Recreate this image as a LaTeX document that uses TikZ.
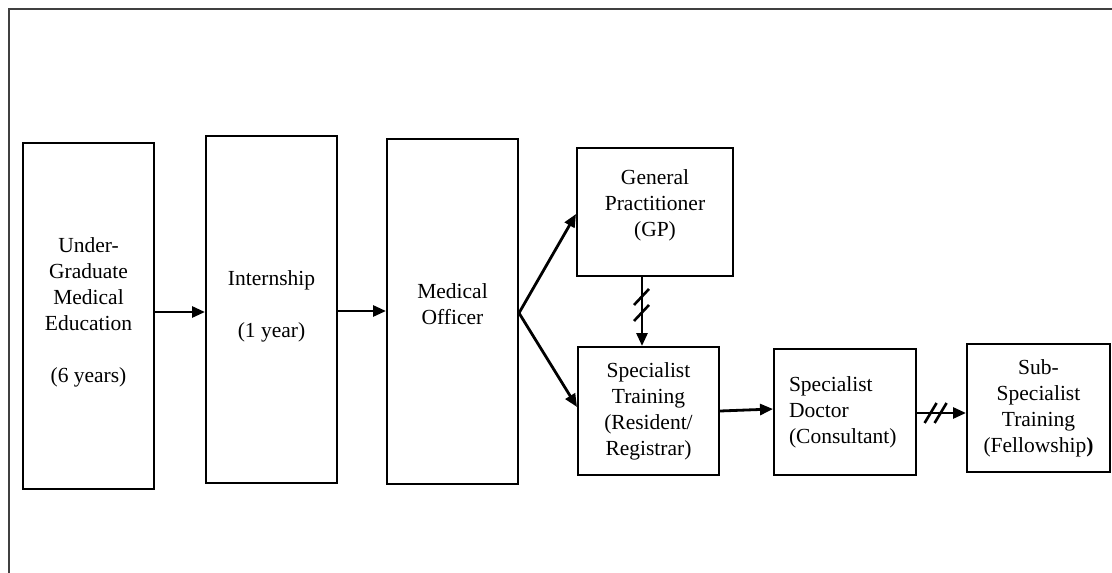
\documentclass[tikz,border=0pt]{standalone}
\usepackage{fontspec}
\setmainfont{Liberation Serif}
\usetikzlibrary{arrows.meta,calc}
\begin{document}
\begin{tikzpicture}[x=1pt,y=-1pt,
  box/.style={draw=black,line width=2pt,rectangle,inner sep=0pt},
  txt/.style={align=center,inner sep=0pt,font=\fontsize{21.5}{26}\selectfont},
  conn/.style={line width=2.8pt,-{Triangle[length=13pt,width=11pt]}},
  slash/.style={line width=2.6pt},
  frame/.style={draw=black!75,line width=1.3pt}]
\useasboundingbox (0,0) rectangle (1112,573);
\draw[frame] (9,573) -- (9,9) -- (1112,9);

\node[box,minimum width=131,minimum height=346,
  label={[txt,yshift=4]center:{Under-\\Graduate\\Medical\\Education\\[26pt](6 years)}}] (b1) at (88.5,316) {};
\node[box,minimum width=131,minimum height=347,
  label={[txt,yshift=3]center:{Internship\\[26pt](1 year)}}] (b2) at (271.5,309.5) {};
\node[box,minimum width=131,minimum height=345,
  label={[txt,yshift=7]center:{Medical\\Officer}}] (b3) at (452.5,311.5) {};
\node[box,minimum width=156,minimum height=128,
  label={[txt,yshift=7]center:{General\\Practitioner\\(GP)}}] (gp) at (655,212) {};
\node[box,minimum width=141,minimum height=128,
  label={[txt]center:{Specialist\\Training\\(Resident/\\Registrar)}}] (st) at (648.5,411) {};
\node[box,minimum width=142,minimum height=126,
  label={[txt,align=left,text width=112]center:{Specialist\\Doctor\\(Consultant)}}] (sd) at (845,412) {};
\node[box,minimum width=143,minimum height=128,
  label={[txt]center:{Sub-\\Specialist\\Training\\(Fellowship\textbf{)}}}] (sub) at (1038.5,408) {};

\coordinate (r1) at (0,312);
\coordinate (r2) at (0,311);
\coordinate (r3) at (0,313);
\coordinate (r4) at (0,214);
\coordinate (r5) at (0,407);
\coordinate (r6) at (0,411);
\coordinate (r7) at (0,409);
\coordinate (r8) at (0,413);
\coordinate (vx) at (642,0);

\draw[conn] (b1.east |- r1) -- (b2.west |- r1);
\draw[conn] (b2.east |- r2) -- (b3.west |- r2);
\draw[conn] (b3.east |- r3) -- (gp.west |- r4);
\draw[conn] (b3.east |- r3) -- (st.west |- r5);
\draw[conn] (vx |- gp.south) -- coordinate[pos=0.42] (m1) (vx |- st.north);
\draw[conn] (st.east |- r6) -- (sd.west |- r7);
\draw[conn] (sd.east |- r8) -- coordinate[pos=0.4] (m2) (sub.west |- r8);

\draw[slash] ($(m1)+(-8,-1)$) -- ($(m1)+(7,-17)$);
\draw[slash] ($(m1)+(-8,15)$) -- ($(m1)+(7,-1)$);
\draw[slash] ($(m2)+(-12,10)$) -- ($(m2)+(0,-10)$);
\draw[slash] ($(m2)+(-2,10)$) -- ($(m2)+(10,-10)$);
\end{tikzpicture}
\end{document}
